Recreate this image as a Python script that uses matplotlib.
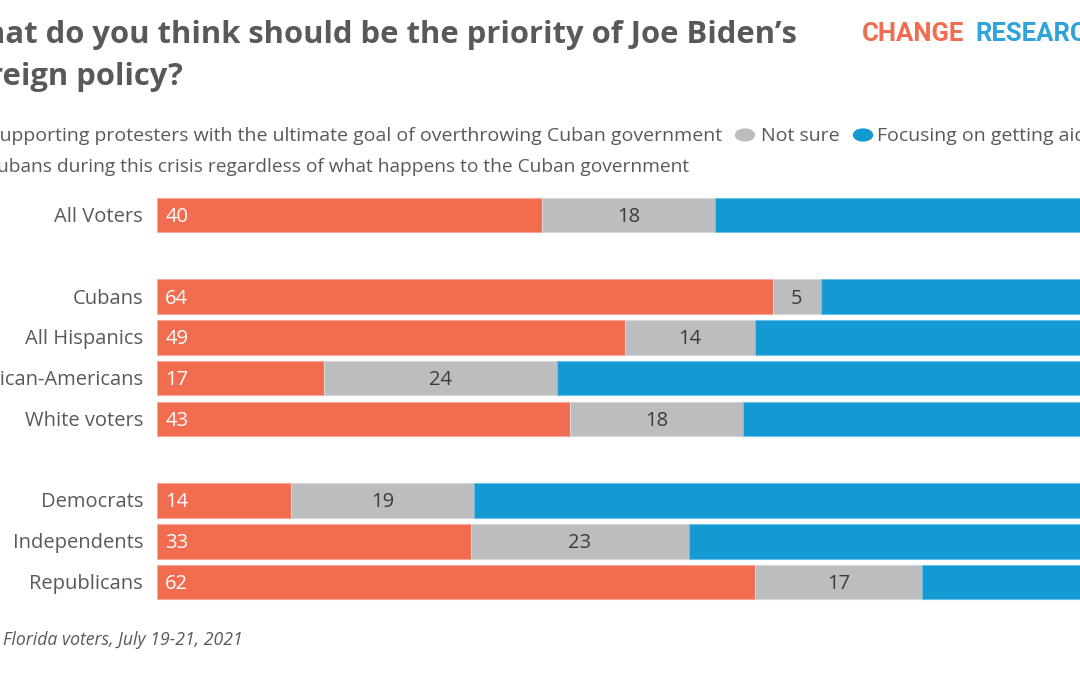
import matplotlib.pyplot as plt

# data (segment lengths, labels as printed)
groups = ["All Voters", "Cubans", "All Hispanics", "African-Americans", "White voters",
          "Democrats", "Independents", "Republicans"]
rows = [0, 2, 3, 4, 5, 7, 8, 9]
support = [40, 64, 48.6, 17.4, 42.9, 13.9, 32.6, 62.2]
not_sure = [18, 5, 13.6, 24.2, 18, 19.1, 22.7, 17.3]
support_lbl = [40, 64, 49, 17, 43, 14, 33, 62]
not_sure_lbl = [18, 5, 14, 24, 18, 19, 23, 17]
focus_aid = [100 - a - b for a, b in zip(support, not_sure)]

ORANGE = "#F26C4F"
GRAY = "#BCBDBF"
BLUE = "#1499D3"
TXT = "#58595B"

W, H = 1080, 675
fig = plt.figure(figsize=(10.8, 6.75), dpi=100)
plt.rcParams['font.family'] = ['Open Sans', 'DejaVu Sans']

# axes in pixel space: bar start x=157, 100% at ~1119; row0 at y=215, row9 at y=582
px = 9.62
unit = (582 - 215) / 9.0
top_px, bot_px = 190, 612
ax = fig.add_axes([157 / W, 1 - bot_px / H, 100 * px / W, (bot_px - top_px) / H])
ax.set_xlim(0, 100)
ax.set_ylim(9 + (bot_px - 582) / unit, -(215 - top_px) / unit)
ax.axis("off")

h = 0.85
ax.barh(rows, support, height=h, color=ORANGE, edgecolor="#F7A898", linewidth=0.8)
ax.barh(rows, not_sure, left=support, height=h, color=GRAY, edgecolor="#D6D7D8", linewidth=0.8)
left2 = [a + b for a, b in zip(support, not_sure)]
ax.barh(rows, focus_aid, left=left2, height=h, color=BLUE, edgecolor="#6DC0E6", linewidth=0.8)

dy = 0.05  # nudge text down a touch
for r, g, s, n, sl, nl in zip(rows, groups, support, not_sure, support_lbl, not_sure_lbl):
    ax.text(0.85, r + dy, str(sl), color="white", fontsize=14.5, va="center", ha="left")
    ax.text(s + n / 2, r + dy, str(nl), color="#3C3C3C", fontsize=14.5, va="center", ha="center")
    ax.text(-1.45, r + dy, g, color=TXT, fontsize=14.5, va="center", ha="right")

# title (cropped on the left in the reference)
fig.text(797 / W, 1 - 35 / H, "What do you think should be the priority of Joe Biden’s",
         fontsize=22.3, fontweight="bold", color=TXT, ha="right", va="center")
fig.text(183 / W, 1 - 77 / H, "foreign policy?",
         fontsize=22.3, fontweight="bold", color=TXT, ha="right", va="center")

# logo
fig.text(862 / W, 1 - 34 / H, "CHANGE", fontsize=18.5, fontweight="bold", color=ORANGE,
         ha="left", va="center", family="Roboto")
fig.text(975 / W, 1 - 34 / H, "RESEARCH", fontsize=18.5, fontweight="bold", color="#2EA3DC",
         ha="left", va="center", family="Roboto")

# legend
ly1, ly2 = 1 - 136 / H, 1 - 167 / H
fig.text(722 / W, ly1, "Supporting protesters with the ultimate goal of overthrowing Cuban government",
         fontsize=14, color=TXT, ha="right", va="center")
fig.text(689 / W, ly2, "Cubans during this crisis regardless of what happens to the Cuban government",
         fontsize=13.8, color=TXT, ha="right", va="center")
fig.text(761 / W, ly1, "Not sure", fontsize=14, color=TXT, ha="left", va="center")
fig.text(877 / W, ly1, "Focusing on getting aid to", fontsize=14, color=TXT, ha="left", va="center")
fig.patches.append(plt.Circle((745 / W, 1 - 135 / H), 9.5 / W, color=GRAY, transform=fig.transFigure))
fig.patches.append(plt.Circle((863 / W, 1 - 135 / H), 9.5 / W, color=BLUE, transform=fig.transFigure))

# note
fig.text(3 / W, 1 - 640 / H, "Florida voters, July 19-21, 2021", fontsize=12.7, style="italic",
         color=TXT, ha="left", va="center")

fig.savefig("out.png", dpi=100)
